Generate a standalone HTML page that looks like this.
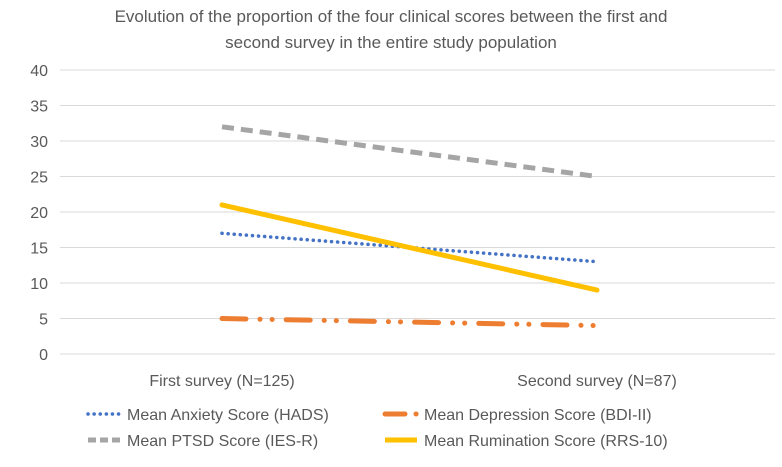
<!DOCTYPE html>
<html><head><meta charset="utf-8"><style>
body{margin:0;background:#fff;font-family:"Liberation Sans",sans-serif;}
svg text{font-family:"Liberation Sans",sans-serif;fill:#595959;}
</style></head><body>
<svg width="782" height="462">
<text x="391" y="22" font-size="17" text-anchor="middle">Evolution of the proportion of the four clinical scores between the first and</text>
<text x="391" y="48" font-size="17" text-anchor="middle">second survey in the entire study population</text>
<g id="grid"></g><g id="series"></g><g id="legend"></g>
</svg>
<script>
const categories=["First survey (N=125)","Second survey (N=87)"];
const anxiety=[17,13];
const depression=[5,4];
const ptsd=[32,25];
const rumination=[21,9];
const yTicks=[0,5,10,15,20,25,30,35,40];
const NS="http://www.w3.org/2000/svg";
const y=v=>354-v*(284/40);
const x=i=>222+i*375;
function mk(t,a,p){const e=document.createElementNS(NS,t);for(const k in a)e.setAttribute(k,a[k]);p.appendChild(e);return e;}
const grid=document.getElementById('grid');
yTicks.forEach(t=>{
 const l=mk('line',{x1:60,x2:775,y1:y(t),y2:y(t),stroke:'#d9d9d9','stroke-width':1},grid);
 
 
 const tx=mk('text',{x:48,y:y(t)+6,'font-size':16,'text-anchor':'end'},grid);tx.textContent=t;
 
 
});
categories.forEach((c,i)=>{
 const tx=mk('text',{x:x(i),y:386,'font-size':16,'text-anchor':'middle'},grid);tx.textContent=c;
 
 
});
const S=[
 {d:anxiety,c:'#4472c4',da:'0.1 6',cap:'round',w:3.5,name:'anxiety',label:'Mean Anxiety Score (HADS)'},
 {d:depression,c:'#ed7d31',da:'24 14 0.1 12 0.1 14',cap:'round',w:5,name:'depression',label:'Mean Depression Score (BDI-II)'},
 {d:ptsd,c:'#a5a5a5',da:'12 7',cap:'butt',w:5,name:'ptsd',label:'Mean PTSD Score (IES-R)'},
 {d:rumination,c:'#ffc000',da:'none',cap:'round',w:5,name:'rumination',label:'Mean Rumination Score (RRS-10)'}];
const sg=document.getElementById('series');
S.forEach(s=>{
 const p=mk('polyline',{points:s.d.map((v,i)=>x(i)+','+y(v)).join(' '),fill:'none',stroke:s.c,'stroke-width':s.w,'stroke-dasharray':s.da,'stroke-linecap':s.cap},sg);
 
 
});
const lg=document.getElementById('legend');
const pos=[[88,414],[385,414],[88,440],[385,440]];
const lda=['0.1 6','20 11 0.1 100','8 4','none'];
const lcap=['round','round','butt','butt'];
S.forEach((s,i)=>{
 const [lx,ly]=pos[i];
 const l=mk('line',{x1:lx,x2:lx+32,y1:ly,y2:ly,stroke:s.c,'stroke-width':s.w,'stroke-dasharray':lda[i],'stroke-linecap':lcap[i]},lg);
 
 
 const t=mk('text',{x:lx+39,y:ly+6,'font-size':16},lg);t.textContent=s.label;
 
 
});
</script>
</body></html>
